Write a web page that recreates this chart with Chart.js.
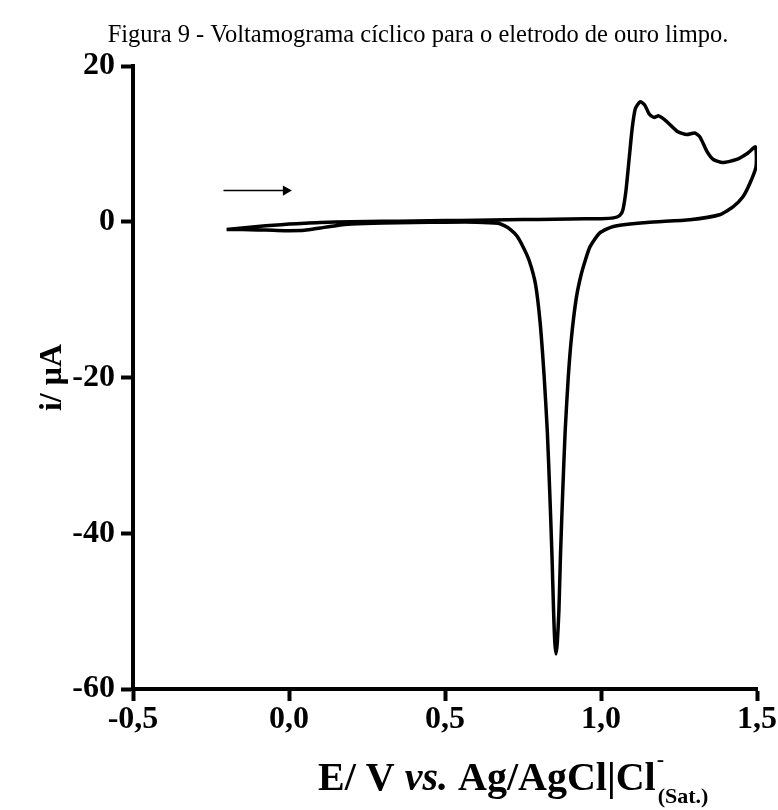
<!DOCTYPE html>
<html>
<head>
<meta charset="utf-8">
<script src="https://cdn.jsdelivr.net/npm/chart.js@4.4.1/dist/chart.umd.min.js"></script>
<style>
  html, body { margin: 0; padding: 0; background: #fff; }
  #wrap { width: 778px; height: 810px; position: relative; }
</style>
</head>
<body>
<div id="wrap"><canvas id="c" width="778" height="810"></canvas></div>
<script>
// ---- data ----
const potentialV = [
  -0.20, -0.15, -0.10, -0.05, 0.00, 0.05, 0.10, 0.20, 0.30, 0.40, 0.50, 0.60, 0.70, 0.80, 0.90, 1.00,
  1.04, 1.06, 1.07, 1.08, 1.09, 1.10, 1.11, 1.125, 1.14, 1.155, 1.17, 1.185, 1.21, 1.245, 1.275, 1.30,
  1.317, 1.34, 1.36, 1.39, 1.435, 1.47, 1.495,
  1.497, 1.478, 1.455, 1.423, 1.38, 1.285, 1.147, 1.04, 0.997, 0.965, 0.95, 0.935, 0.92, 0.905, 0.895,
  0.885, 0.877, 0.870, 0.865, 0.860, 0.856, 0.852, 0.848, 0.843, 0.836, 0.828, 0.818, 0.805, 0.79,
  0.77, 0.75, 0.73, 0.71, 0.69, 0.67, 0.60, 0.50, 0.40, 0.30, 0.20, 0.15, 0.10, 0.05, 0.00, -0.05,
  -0.10, -0.15, -0.20
];
const currentUA = [
  -1.0, -0.8, -0.6, -0.45, -0.3, -0.2, -0.1, 0.0, 0.05, 0.1, 0.15, 0.2, 0.25, 0.3, 0.35, 0.4,
  0.5, 0.8, 1.5, 4.0, 8.0, 12.0, 14.5, 15.4, 15.0, 13.8, 13.4, 13.6, 12.9, 11.6, 11.2, 11.4,
  10.9, 9.0, 8.0, 7.6, 8.0, 8.8, 9.6,
  7.1, 5.0, 3.2, 1.9, 0.9, 0.26, -0.1, -0.6, -1.4, -3.2, -4.9, -7.0, -10.0, -15.0, -20.0,
  -27.0, -35.0, -43.0, -50.0, -54.0, -55.5, -54.0, -50.0, -43.0, -35.0, -27.0, -20.0, -13.0, -8.0,
  -5.0, -3.2, -1.8, -1.0, -0.5, -0.2, -0.05, -0.05, -0.1, -0.15, -0.3, -0.5, -0.8, -1.1, -1.15, -1.1,
  -1.05, -1.0, -1.0
];
const arrowX = [-0.21, -0.01];
const arrowY = [4, 4];
const xTicks = [-0.5, 0.0, 0.5, 1.0, 1.5];
const xTickLabels = ['-0,5', '0,0', '0,5', '1,0', '1,5'];
const yTicks = [20, 0, -20, -40, -60];
const yTickLabels = ['20', '0', '-20', '-40', '-60'];
const titleText = 'Figura 9 - Voltamograma cíclico para o eletrodo de ouro limpo.';
const yTitle = 'i/ μA';

// ---- build chart ----
const curve = potentialV.map((x, i) => ({ x: x, y: currentUA[i] }));
const arrow = arrowX.map((x, i) => ({ x: x, y: arrowY[i] }));
const SERIF = '"Liberation Serif", "Times New Roman", serif';

const textPlugin = {
  id: 'textPlugin',
  afterDraw(chart) {
    const ctx = chart.ctx;
    ctx.save();
    ctx.fillStyle = '#000';
    ctx.textBaseline = 'alphabetic';
    // figure title
    ctx.font = '24.5px ' + SERIF;
    ctx.textAlign = 'center';
    ctx.fillText(titleText, 418, 42);
    // x-axis rich title: E/ V vs. Ag/AgCl|Cl^- _(Sat.)
    ctx.textAlign = 'left';
    const parts = [
      { t: 'E/ V ', f: 'bold 40px ' + SERIF },
      { t: 'vs.', f: 'italic bold 40px ' + SERIF },
      { t: ' Ag/AgCl|Cl', f: 'bold 40px ' + SERIF }
    ];
    let x = 318;
    const base = 790;
    parts.forEach(p => { ctx.font = p.f; ctx.fillText(p.t, x, base); x += ctx.measureText(p.t).width; });
    ctx.font = 'bold 22px ' + SERIF;
    ctx.fillText('-', x + 1, base - 24);
    ctx.fillText('(Sat.)', x + 2, base + 13);
    ctx.restore();
  }
};

new Chart(document.getElementById('c'), {
  type: 'scatter',
  data: {
    datasets: [
      {
        data: curve,
        showLine: true,
        borderColor: '#000',
        borderWidth: 3.5,
        pointRadius: 0,
        tension: 0.2,
        fill: false
      },
      {
        data: arrow,
        showLine: true,
        borderColor: '#000',
        backgroundColor: '#000',
        borderWidth: 1.5,
        pointRadius: [0, 6],
        pointStyle: 'triangle',
        rotation: 90,
        pointBorderWidth: 0
      }
    ]
  },
  options: {
    responsive: false,
    animation: false,
    events: [],
    layout: { padding: { left: 0, top: 66, right: 21, bottom: 0 } },
    plugins: { legend: { display: false }, tooltip: { enabled: false }, title: { display: false } },
    scales: {
      x: {
        type: 'linear',
        min: -0.5, max: 1.5,
        afterBuildTicks: s => { s.ticks = xTicks.map(v => ({ value: v })); },
        afterFit: s => { s.height = 121; },
        ticks: {
          color: '#000',
          font: { family: SERIF, size: 32, weight: 'bold' },
          padding: 0,
          maxRotation: 0,
          callback: (v) => { const i = xTicks.findIndex(t => Math.abs(t - v) < 1e-9); return i >= 0 ? xTickLabels[i] : ''; }
        },
        grid: { drawOnChartArea: false, drawTicks: true, tickLength: 12, tickWidth: 4, tickColor: '#000' },
        border: { display: true, color: '#000', width: 4 }
      },
      y: {
        type: 'linear',
        min: -60, max: 20,
        afterBuildTicks: s => { s.ticks = yTicks.map(v => ({ value: v })); },
        afterFit: s => { s.width = 133; },
        ticks: {
          color: '#000',
          font: { family: SERIF, size: 32, weight: 'bold' },
          padding: 6,
          callback: (v) => { const i = yTicks.findIndex(t => Math.abs(t - v) < 1e-9); return i >= 0 ? yTickLabels[i] : ''; }
        },
        title: {
          display: true,
          text: yTitle,
          color: '#000',
          font: { family: SERIF, size: 32, weight: 'bold' },
          padding: { top: 34, bottom: 0 }
        },
        grid: { drawOnChartArea: false, drawTicks: true, tickLength: 12, tickWidth: 4, tickColor: '#000' },
        border: { display: true, color: '#000', width: 4 }
      }
    }
  },
  plugins: [textPlugin]
});
</script>
</body>
</html>
